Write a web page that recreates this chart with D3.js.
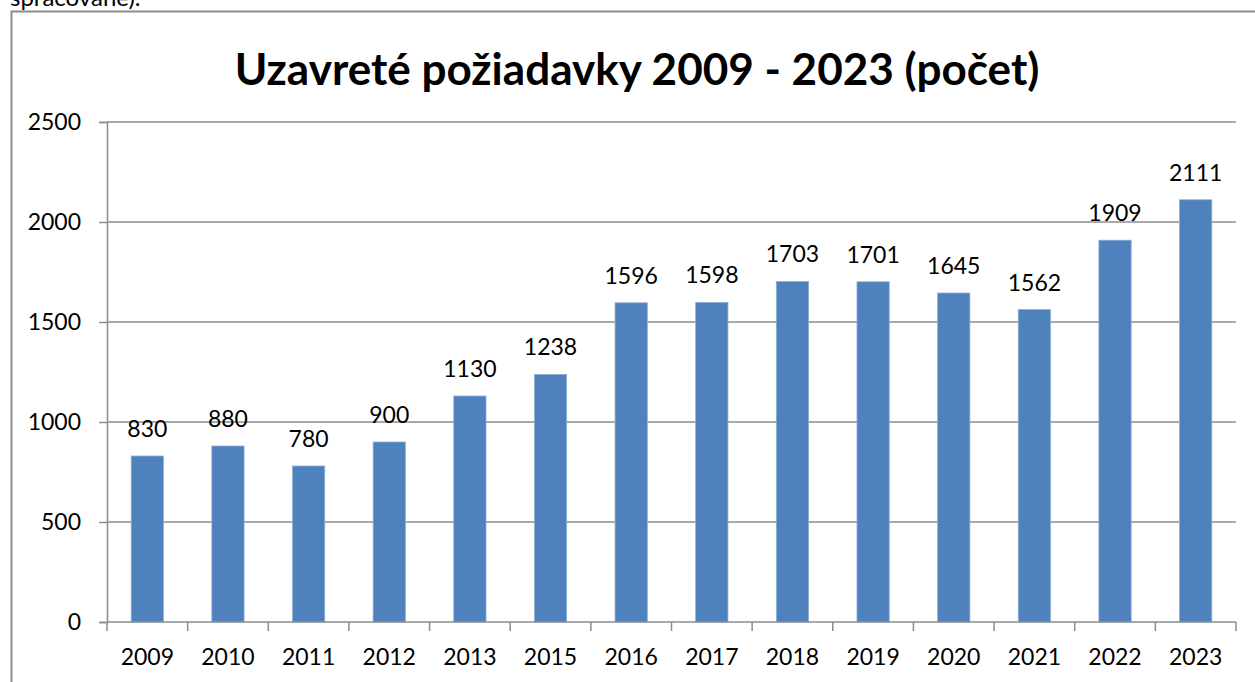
<!DOCTYPE html>
<html>
<head>
<meta charset="utf-8">
<script src="https://cdn.jsdelivr.net/npm/d3@7"></script>
<style>
  body { margin: 0; background: #fff; }
  text { font-family: Lato, "Open Sans", sans-serif; fill: #000; }
</style>
</head>
<body>
<div id="chart"></div>
<script>
// data
var years = ["2009", "2010", "2011", "2012", "2013", "2015", "2016",
             "2017", "2018", "2019", "2020", "2021", "2022", "2023"];
var counts = [830, 880, 780, 900, 1130, 1238, 1596, 1598, 1703, 1701, 1645, 1562, 1909, 2111];
var yTicks = [0, 500, 1000, 1500, 2000, 2500];

var W = 1255, H = 682;
var margin = {top: 122, right: 19, bottom: 60, left: 107},
    width = W - margin.left - margin.right,
    height = H - margin.top - margin.bottom;

var svg = d3.select("#chart")
  .append("svg")
    .attr("width", W)
    .attr("height", H);

// leftover text of the page above the chart
svg.append("text")
  .attr("x", 10).attr("y", 6)
  .style("font-size", "24px")
  .text("spracované).");

// outer frame of the chart
svg.append("rect")
  .attr("x", 11.5).attr("y", 11.5)
  .attr("width", 1300).attr("height", 720)
  .attr("fill", "none")
  .attr("stroke", "#8c8c8c")
  .attr("stroke-width", 2);

// title, fitted to the width it takes in the picture
var title = svg.append("text")
  .attr("x", 637).attr("y", 85)
  .attr("text-anchor", "middle")
  .style("font-weight", "bold")
  .style("font-size", "40px")
  .text("Uzavreté požiadavky 2009 - 2023 (počet)");
var tw = title.node().getComputedTextLength();
title.style("font-size", (40 * 805 / tw) + "px");

var g = svg.append("g")
  .attr("transform", "translate(" + margin.left + "," + margin.top + ")");

var x = d3.scaleBand()
  .domain(years)
  .range([0, width])
  .paddingInner(0.6)
  .paddingOuter(0.3);

var y = d3.scaleLinear()
  .domain([0, 2500])
  .range([height, 0]);

// gridlines
g.selectAll(".grid")
  .data(yTicks.slice(1))
  .enter().append("line")
    .attr("x1", 0).attr("x2", width)
    .attr("y1", function(d) { return y(d); })
    .attr("y2", function(d) { return y(d); })
    .attr("stroke", "#8c8c8c")
    .attr("stroke-width", 1.5);

// Y axis
var yAxis = g.append("g")
  .call(d3.axisLeft(y).tickValues(yTicks).tickFormat(d3.format("d")).tickSize(8).tickPadding(18));
yAxis.selectAll("line, path").attr("stroke", "#8c8c8c").attr("stroke-width", 1.5);
yAxis.selectAll("text").style("font-size", "23px").style("font-family", "Lato, sans-serif").attr("fill", "#000");

// bars
g.selectAll(".bar")
  .data(counts)
  .enter().append("rect")
    .attr("class", "bar")
    .attr("x", function(d, i) { return x(years[i]); })
    .attr("y", function(d) { return y(d); })
    .attr("width", x.bandwidth())
    .attr("height", function(d) { return height - y(d); })
    .attr("fill", "#4f81bd")
    .attr("stroke", "#8eafd8")
    .attr("stroke-width", 0.8);

// value labels
g.selectAll(".lbl")
  .data(counts)
  .enter().append("text")
    .attr("x", function(d, i) { return x(years[i]) + x.bandwidth() / 2; })
    .attr("y", function(d) { return y(d) - 19; })
    .attr("text-anchor", "middle")
    .style("font-size", "23px")
    .text(function(d) { return d; });

// X axis with ticks between categories
var xAxis = g.append("g")
  .attr("transform", "translate(0," + height + ")");
xAxis.append("line")
  .attr("x1", 0).attr("x2", width)
  .attr("stroke", "#8c8c8c").attr("stroke-width", 1.5);
var step = x.step();
xAxis.selectAll(".tk")
  .data(d3.range(years.length + 1))
  .enter().append("line")
    .attr("x1", function(d) { return x(years[0]) - x.paddingOuter() * step + d * step; })
    .attr("x2", function(d) { return x(years[0]) - x.paddingOuter() * step + d * step; })
    .attr("y1", 0).attr("y2", 9)
    .attr("stroke", "#8c8c8c").attr("stroke-width", 1.5);
xAxis.selectAll(".xl")
  .data(years)
  .enter().append("text")
    .attr("x", function(d) { return x(d) + x.bandwidth() / 2; })
    .attr("y", 43)
    .attr("text-anchor", "middle")
    .style("font-size", "23px")
    .text(function(d) { return d; });
</script>
</body>
</html>
